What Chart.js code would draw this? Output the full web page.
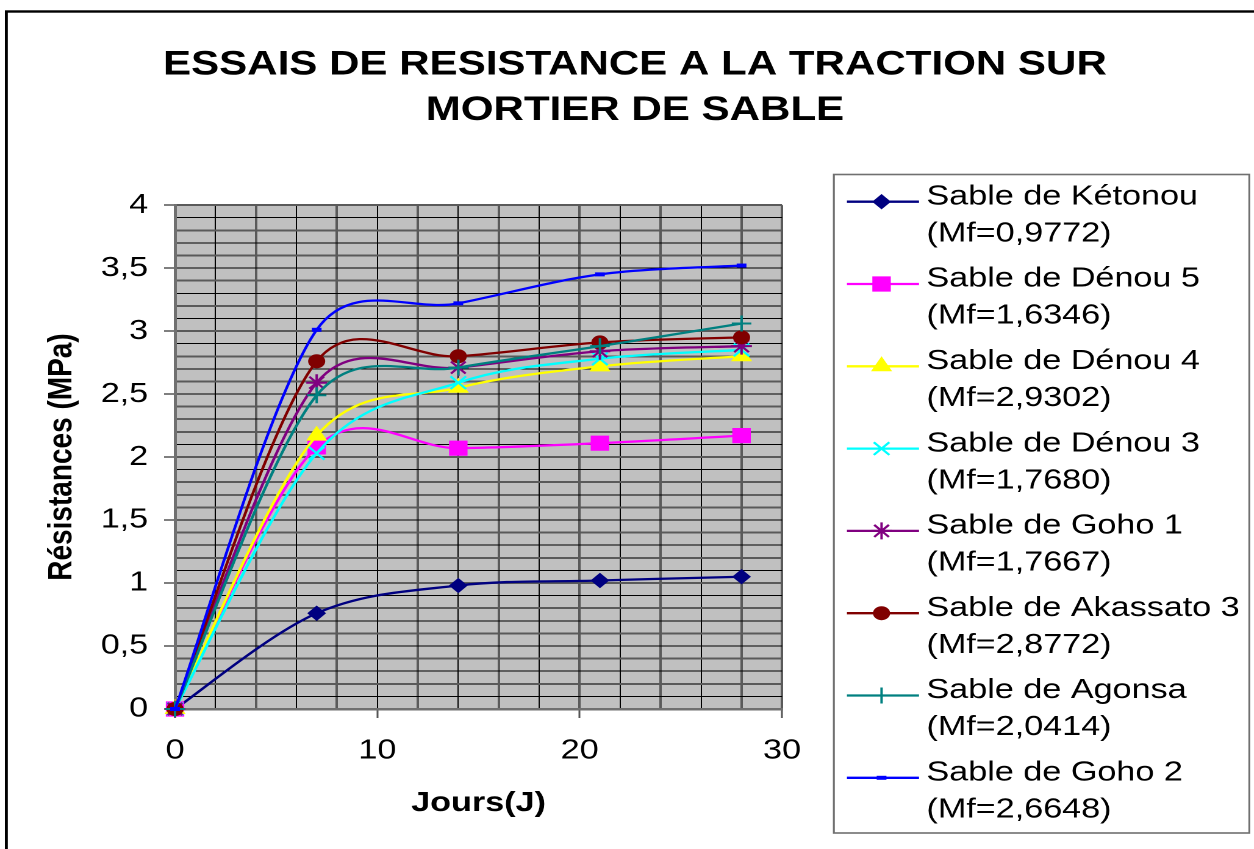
<!DOCTYPE html>
<html>
<head>
<meta charset="utf-8">
<script src="https://cdn.jsdelivr.net/npm/chart.js@4/dist/chart.umd.min.js"></script>
<style>
  html, body { margin: 0; padding: 0; background: #ffffff; overflow: hidden; }
  #wrap { width: 1028px; height: 849px; transform: scaleX(1.2198); transform-origin: 0 0; }
  canvas { display: block; }
</style>
</head>
<body>
<div id="wrap"><canvas id="c" width="1028" height="849"></canvas></div>
<script>
// ---- data ----
const titleLines = ['ESSAIS DE RESISTANCE A LA TRACTION SUR', 'MORTIER DE SABLE'];
const xTitle = 'Jours(J)';
const yTitle = 'Résistances (MPa)';
const days = [0, 7, 14, 21, 28];
const seriesNames = ['Sable de Kétonou', 'Sable de Dénou 5', 'Sable de Dénou 4', 'Sable de Dénou 3',
                     'Sable de Goho 1', 'Sable de Akassato 3', 'Sable de Agonsa', 'Sable de Goho 2'];
const seriesMf = ['(Mf=0,9772)', '(Mf=1,6346)', '(Mf=2,9302)', '(Mf=1,7680)',
                  '(Mf=1,7667)', '(Mf=2,8772)', '(Mf=2,0414)', '(Mf=2,6648)'];
const ketonou   = [0, 0.76, 0.98, 1.02, 1.05];
const denou5    = [0, 2.08, 2.07, 2.11, 2.17];
const denou4    = [0, 2.17, 2.55, 2.72, 2.80];
const denou3    = [0, 2.03, 2.59, 2.78, 2.85];
const goho1     = [0, 2.59, 2.71, 2.84, 2.88];
const akassato3 = [0, 2.76, 2.80, 2.91, 2.95];
const agonsa    = [0, 2.49, 2.71, 2.88, 3.06];
const goho2     = [0, 3.01, 3.22, 3.45, 3.52];
const seriesValues = [ketonou, denou5, denou4, denou3, goho1, akassato3, agonsa, goho2];

// ---- styles ----
const FONT = "'Liberation Sans', Arial, Helvetica, sans-serif";
const styles = [
  { color: '#000080', pointStyle: 'rectRot', radius: 7,  bw: 1 },
  { color: '#FF00FF', pointStyle: 'rect',    radius: 10, bw: 1 },
  { color: '#FFFF00', pointStyle: 'triangle',radius: 9,  bw: 1 },
  { color: '#00FFFF', pointStyle: 'crossRot',radius: 9,  bw: 2 },
  { color: '#800080', pointStyle: 'star',    radius: 8.5,bw: 2 },
  { color: '#800000', pointStyle: 'circle',  radius: 6.5,bw: 1 },
  { color: '#008080', pointStyle: 'cross',   radius: 8,  bw: 2 },
  { color: '#0000FF', pointStyle: 'line',    radius: 4,  bw: 4 }
];

const datasets = seriesValues.map((vals, i) => ({
  label: seriesNames[i] + ' ' + seriesMf[i],
  data: days.map((d, j) => ({ x: d, y: vals[j] })),
  borderColor: styles[i].color,
  backgroundColor: styles[i].color,
  borderWidth: 2.3,
  pointStyle: styles[i].pointStyle,
  pointRadius: styles[i].radius,
  pointHoverRadius: styles[i].radius,
  pointBackgroundColor: styles[i].color,
  pointBorderColor: styles[i].color,
  pointBorderWidth: styles[i].bw,
  tension: 0.4,
  fill: false,
  clip: false,
  order: seriesValues.length - i
}));

const tenth = v => Math.round(v * 10);

// Spreadsheet-style smoothing: replaces the library's Bezier control points
// (computed from the points the library placed on its scales).
const smoothPlugin = {
  id: 'sheetSmooth',
  beforeDatasetsDraw(chart) {
    chart.getSortedVisibleDatasetMetas().forEach(meta => {
      const line = meta.dataset;
      if (!line || !line.updateControlPoints) return;
      line.updateControlPoints(chart.chartArea, 'x');
      const pts = meta.data;
      const n = pts.length;
      const dist = (a, b) => Math.hypot(b.x - a.x, b.y - a.y);
      for (let i = 0; i < n - 1; i++) {
        const p1 = pts[i], p2 = pts[i + 1];
        const p0 = i > 0 ? pts[i - 1] : p1;
        const p3 = i + 2 < n ? pts[i + 2] : p2;
        const d12 = dist(p1, p2), d02 = dist(p0, p2), d13 = dist(p1, p3);
        let f0 = 1 / 6, f1 = 1 / 6;
        if (d02 / 6 >= d12 / 2 && d02 > 0) f0 = (d12 / 2) / d02;
        if (d13 / 6 >= d12 / 2 && d13 > 0) f1 = (d12 / 2) / d13;
        p1.cp2x = p1.x + (p2.x - p0.x) * f0;
        p1.cp2y = p1.y + (p2.y - p0.y) * f0;
        p2.cp1x = p2.x - (p3.x - p1.x) * f1;
        p2.cp1y = p2.y - (p3.y - p1.y) * f1;
      }
      line._path = undefined;
    });
  }
};

const bgPlugin = {
  id: 'bgPlugin',
  beforeDraw(chart) {
    const ctx = chart.ctx, a = chart.chartArea;
    ctx.save();
    ctx.fillStyle = '#ffffff';
    ctx.fillRect(0, 0, chart.width, chart.height);
    ctx.strokeStyle = '#000000';
    ctx.lineWidth = 2.4;
    ctx.strokeRect(5.2, 11.5, 1060, 900);
    ctx.fillStyle = '#C0C0C0';
    ctx.fillRect(a.left, a.top, a.right - a.left, a.bottom - a.top);
    ctx.restore();
  }
};

const legendPlugin = {
  id: 'boxLegend',
  afterDraw(chart) {
    const ctx = chart.ctx;
    ctx.save();
    ctx.strokeStyle = '#707070';
    ctx.lineWidth = 1.6;
    ctx.strokeRect(683.6, 174.5, 1024.2 - 683.6, 833 - 174.5);
    const h = Chart.helpers;
    chart.data.datasets.forEach((ds, i) => {
      const yl = 196.7 + i * 82.3;
      const ys = yl + 5;
      ctx.strokeStyle = ds.borderColor;
      ctx.lineWidth = ds.borderWidth;
      ctx.beginPath();
      ctx.moveTo(694.3, ys);
      ctx.lineTo(753.4, ys);
      ctx.stroke();
      ctx.fillStyle = ds.pointBackgroundColor;
      ctx.strokeStyle = ds.pointBorderColor;
      ctx.lineWidth = ds.pointBorderWidth;
      if (h && h.drawPoint) {
        h.drawPoint(ctx, { pointStyle: ds.pointStyle, radius: ds.pointRadius, rotation: 0, borderWidth: ds.pointBorderWidth }, 722.7, ys);
      }
      ctx.fillStyle = '#000000';
      ctx.font = '28px ' + FONT;
      ctx.textAlign = 'left';
      ctx.textBaseline = 'middle';
      ctx.fillText(seriesNames[i], 759.5, yl);
      ctx.fillText(seriesMf[i], 759.5, yl + 37);
    });
    ctx.restore();
  }
};

new Chart(document.getElementById('c'), {
  type: 'line',
  data: { datasets },
  options: {
    responsive: false,
    animation: false,
    devicePixelRatio: 2,
    layout: { padding: { left: 13, right: 0, top: 0, bottom: 0 } },
    plugins: {
      legend: { display: false },
      tooltip: { enabled: false },
      title: {
        display: true,
        text: titleLines,
        color: '#000000',
        font: { family: FONT, size: 34.5, weight: 'bold', lineHeight: 1.32 },
        padding: { top: 42, bottom: 72 }
      }
    },
    scales: {
      x: {
        type: 'linear',
        position: 'bottom',
        min: 0, max: 30,
        afterFit: s => { s.height = 140; },
        ticks: {
          stepSize: 2, autoSkip: false, maxRotation: 0, padding: 16,
          color: '#000000',
          font: { family: FONT, size: 28 },
          callback: v => (Math.round(v) % 10 === 0 ? String(Math.round(v)) : '')
        },
        grid: {
          color: c => (Math.round(c.tick.value) % 4 === 0 || Math.round(c.tick.value) === 30) ? '#5a5a5a' : '#000000',
          lineWidth: c => (Math.round(c.tick.value) % 4 === 0 || Math.round(c.tick.value) === 30) ? 2 : 1,
          tickLength: 9,
          tickColor: c => (Math.round(c.tick.value) % 10 === 0) ? '#555555' : 'rgba(0,0,0,0)',
          tickWidth: 1.5
        },
        border: { color: '#707070', width: 2.5 },
        title: {
          display: true, text: xTitle, color: '#000000',
          font: { family: FONT, size: 28, weight: 'bold' },
          padding: { top: 0, bottom: 29 }
        }
      },
      y: {
        type: 'linear',
        position: 'left',
        min: 0, max: 4,
        afterFit: s => { s.width = 130.5; },
        ticks: {
          stepSize: 0.1, autoSkip: false, padding: 13,
          color: '#000000',
          font: { family: FONT, size: 28 },
          callback: v => { const r = tenth(v); return r % 5 === 0 ? String(r / 10).replace('.', ',') : ''; }
        },
        grid: {
          color: c => tenth(c.tick.value) % 2 === 0 ? '#5a5a5a' : '#000000',
          lineWidth: c => tenth(c.tick.value) % 2 === 0 ? 2 : 1,
          tickLength: 9,
          tickColor: c => tenth(c.tick.value) % 5 === 0 ? '#555555' : 'rgba(0,0,0,0)',
          tickWidth: 1.5
        },
        border: { color: '#707070', width: 2.5 },
        title: {
          display: true, text: yTitle, color: '#000000',
          font: { family: FONT, size: 28, weight: 'bold' },
          padding: { top: 21, bottom: 0 }
        }
      },
      yR: {
        type: 'linear',
        position: 'right',
        min: 0, max: 4,
        afterFit: s => { s.width = 1028 - 641.1; },
        ticks: { display: false },
        grid: { display: false, drawTicks: false },
        border: { display: false }
      }
    }
  },
  plugins: [bgPlugin, smoothPlugin, legendPlugin]
});
</script>
</body>
</html>
